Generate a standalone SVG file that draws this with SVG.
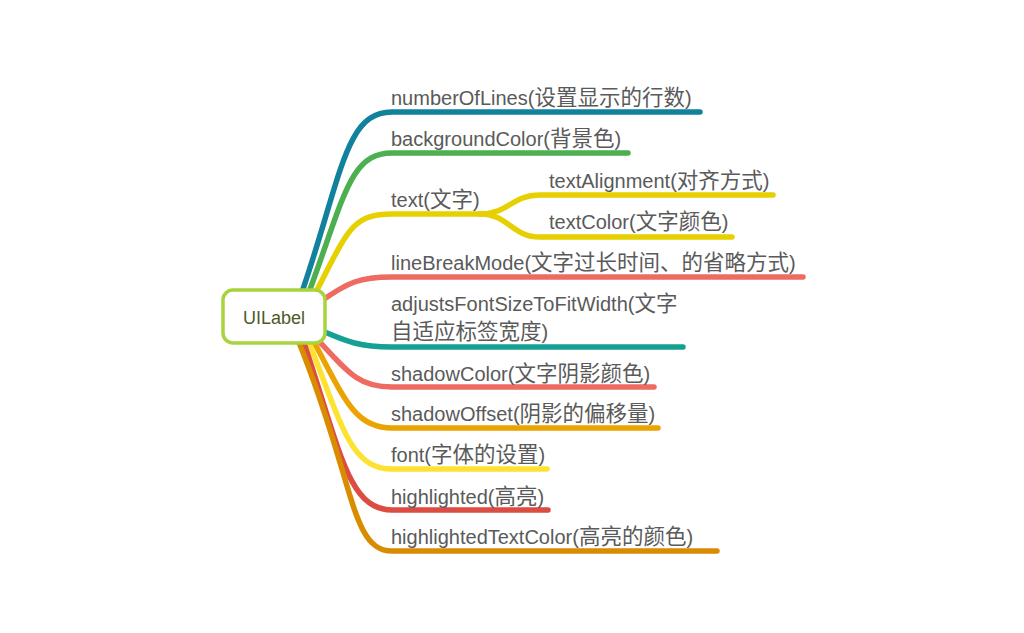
<svg xmlns="http://www.w3.org/2000/svg" width="1024" height="633" viewBox="0 0 1024 633">
<style>
.b{fill:none;stroke-width:5.5;stroke-linecap:round;stroke-linejoin:round}
.t{font-family:"Liberation Sans","Noto Sans CJK SC",sans-serif;font-size:20px;fill:#5a5a5a}
.k{font-size:21.5px}
</style>
<rect width="1024" height="633" fill="#ffffff"/>
<g id="connectors">
<path class="b" stroke="#11819e" d="M302,292 C342,175 345,112 392,112 L700,112"/>
<path class="b" stroke="#4caf50" d="M309,292 C345,195 350,153 392,153 L628,153"/>
<path class="b" stroke="#e6d000" d="M316,292 C348,230 352,214 392,214 L484,214"/>
<path class="b" stroke="#e6d000" d="M480,214 C508,214 512,195 540,195 L773,195"/>
<path class="b" stroke="#e6d000" d="M480,214 C508,214 512,237 540,237 L732,237"/>
<path class="b" stroke="#ed6b61" d="M320,302 C348,282 360,277 392,277 L803,277"/>
<path class="b" stroke="#15a094" d="M320,330 C348,342 360,347 392,347 L683,347"/>
<path class="b" stroke="#ed6b61" d="M318,340 C350,375 360,387 392,387 L654,387"/>
<path class="b" stroke="#eaa300" d="M313,340 C345,400 355,428 392,428 L658,428"/>
<path class="b" stroke="#fde232" d="M308,340 C342,425 350,469 392,469 L547,469"/>
<path class="b" stroke="#dc4c43" d="M303,340 C340,450 348,510 392,510 L548,510"/>
<path class="b" stroke="#d98c00" d="M298,340 C355,480 350,551 392,551 L717,551"/>
</g>
<g id="root">
<rect x="223" y="290" width="102" height="53" rx="10" fill="#ffffff" stroke="#a8d33c" stroke-width="3.5"/>
<text x="274" y="324" text-anchor="middle" font-family="Liberation Sans, sans-serif" font-size="18" fill="#4b5a2a">UILabel</text>
</g>
<g id="n1"><text class="t" x="391" y="105">numberOfLines(<tspan class="k">设置显示的行数</tspan>)</text></g>
<g id="n2"><text class="t" x="391" y="146">backgroundColor(<tspan class="k">背景色</tspan>)</text></g>
<g id="n3"><text class="t" x="391" y="207">text(<tspan class="k">文字</tspan>)</text></g>
<g id="n3a"><text class="t" x="549" y="188">textAlignment(<tspan class="k">对齐方式</tspan>)</text></g>
<g id="n3b"><text class="t" x="549" y="229">textColor(<tspan class="k">文字颜色</tspan>)</text></g>
<g id="n4"><text class="t" x="391" y="270">lineBreakMode(<tspan class="k">文字过长时间、的省略方式</tspan>)</text></g>
<g id="n5"><text class="t" x="391" y="311">adjustsFontSizeToFitWidth(<tspan class="k">文字</tspan></text><text class="t" x="391" y="339"><tspan class="k">自适应标签宽度</tspan>)</text></g>
<g id="n6"><text class="t" x="391" y="381">shadowColor(<tspan class="k">文字阴影颜色</tspan>)</text></g>
<g id="n7"><text class="t" x="391" y="421">shadowOffset(<tspan class="k">阴影的偏移量</tspan>)</text></g>
<g id="n8"><text class="t" x="391" y="462">font(<tspan class="k">字体的设置</tspan>)</text></g>
<g id="n9"><text class="t" x="391" y="504">highlighted(<tspan class="k">高亮</tspan>)</text></g>
<g id="n10"><text class="t" x="391" y="544">highlightedTextColor(<tspan class="k">高亮的颜色</tspan>)</text></g>
</svg>
